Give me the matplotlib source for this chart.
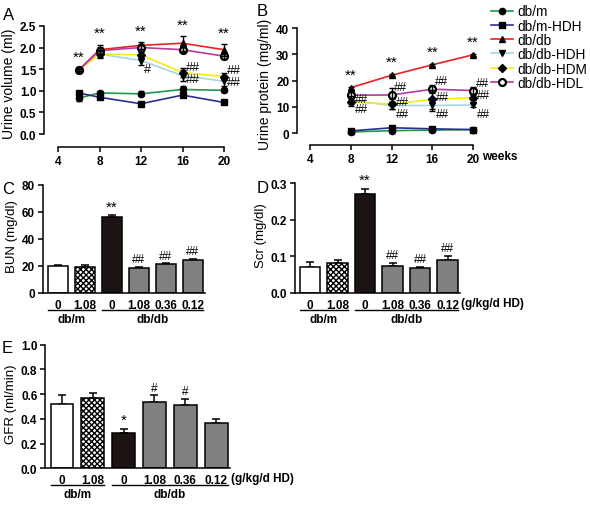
import numpy as np
import matplotlib
matplotlib.use("Agg")
import matplotlib.pyplot as plt
from matplotlib.transforms import ScaledTranslation

plt.rcParams['font.family'] = ['Liberation Sans', 'DejaVu Sans']

# ---- data ----
groups = ['db/m', 'db/m-HDH', 'db/db', 'db/db-HDH', 'db/db-HDM', 'db/db-HDL']
line_colors = ['#1e9a4e', '#2a2f8c', '#e8221e', '#a6d6e6', '#f2ec10', '#b83a9c']
markers = ['o', 's', '^', 'v', 'D', 'o']

# A: urine volume (ml)
weeks_a = [6, 8, 12, 16, 20]
vol = [
    [0.83, 0.95, 0.93, 1.03, 1.01],
    [0.95, 0.85, 0.70, 0.90, 0.73],
    [1.48, 1.95, 2.05, 2.10, 1.95],
    [1.48, 1.85, 1.70, 1.35, 1.22],
    [1.48, 1.85, 1.83, 1.42, 1.33],
    [1.48, 1.93, 2.00, 1.95, 1.80],
]
vol_err = [
    [0.07, 0.05, 0.06, 0.08, 0.03],
    [0.05, 0.04, 0.03, 0.05, 0.02],
    [0.04, 0.12, 0.08, 0.17, 0.14],
    [0.03, 0.10, 0.10, 0.12, 0.10],
    [0.03, 0.08, 0.07, 0.10, 0.08],
    [0.03, 0.08, 0.08, 0.06, 0.06],
]

# B: urine protein (mg/ml)
weeks_b = [8, 12, 16, 20]
prot = [
    [0.4, 0.9, 1.1, 1.3],
    [0.8, 2.0, 1.6, 1.3],
    [17.3, 22.0, 26.0, 29.8],
    [12.5, 10.5, 10.5, 10.7],
    [11.8, 11.0, 12.8, 13.5],
    [14.4, 14.5, 16.7, 16.2],
]
prot_err = [
    [0.3, 0.4, 0.3, 0.3],
    [0.4, 0.5, 0.4, 0.3],
    [0.4, 0.4, 0.4, 0.4],
    [1.5, 1.5, 2.0, 0.8],
    [1.5, 1.8, 3.5, 1.0],
    [2.0, 2.5, 1.5, 1.5],
]

# C, D, E: bars
doses = ['0', '1.08', '0', '1.08', '0.36', '0.12']
bun = [20.0, 19.5, 56.0, 18.5, 21.5, 24.5]
bun_err = [0.6, 1.5, 1.5, 1.0, 0.5, 0.6]
bun_sig = ['', '', '**', '##', '##', '##']
scr = [0.072, 0.082, 0.270, 0.074, 0.067, 0.090]
scr_err = [0.013, 0.008, 0.015, 0.009, 0.004, 0.012]
scr_sig = ['', '', '**', '##', '##', '##']
gfr = [0.52, 0.565, 0.285, 0.54, 0.51, 0.365]
gfr_err = [0.075, 0.045, 0.035, 0.05, 0.05, 0.035]
gfr_sig = ['', '', '*', '#', '#', '']

bar_faces = ['white', 'white', '#1c1412', '#808080', '#808080', '#808080']
bar_hatch = [None, 'xxxxxx', None, None, None, None]

W, H = 590, 506
fig = plt.figure(figsize=(W / 100, H / 100), dpi=100)


def px_axes(l, t, r, b):
    return fig.add_axes([l / W, 1 - b / H, (r - l) / W, (b - t) / H])


def style(ax):
    for s in ['top', 'right']:
        ax.spines[s].set_visible(False)
    for s in ['left', 'bottom']:
        ax.spines[s].set_linewidth(1.1)
    ax.tick_params(direction='out', length=3.5, width=1.1, labelsize=8.5, pad=2)
    for lab in ax.get_xticklabels() + ax.get_yticklabels():
        lab.set_fontweight('bold')


def line_panel(ax, weeks, vals, errs):
    handles = []
    for i in range(len(groups)):
        h, = ax.plot(weeks, vals[i], color=line_colors[i], lw=1.2, zorder=2,
                     marker=markers[i], ms=4.5 if i != 5 else 5,
                     mfc='black' if i != 5 else 'white',
                     mec='black', mew=1.0 if i != 5 else 1.6, clip_on=False)
        ax.errorbar(weeks, vals[i], yerr=errs[i], fmt='none', ecolor='black',
                    elinewidth=1.0, capsize=2.5, capthick=1.0, zorder=3, clip_on=False)
        handles.append(h)
    return handles


# ---- A ----
axA = px_axes(44, 20, 232, 148)
hA = line_panel(axA, weeks_a, vol, vol_err)
axA.set_xlim(2.65, 20.77)
axA.set_ylim(-0.30, 2.66)
axA.spines['left'].set_bounds(0, 2.5)
axA.spines['bottom'].set_bounds(4, 20)
axA.set_xticks([4, 8, 12, 16, 20])
axA.set_yticks(np.arange(0, 2.6, 0.5))
axA.set_yticklabels(['%.1f' % v for v in np.arange(0, 2.6, 0.5)])
axA.set_ylabel('Urine volume (ml)', fontsize=10, labelpad=3)
style(axA)
for w, v, e in zip(weeks_a, vol[2], vol_err[2]):
    axA.text(w, v + e + 0.1, '**', ha='center', va='bottom', fontsize=11)
axA.text(12.3, vol[3][2] - 0.05, '#', ha='left', va='top', fontsize=9)
for j in [3, 4]:
    axA.text(16.35, vol[j][3] + (0.14 if j == 4 else -0.07), '##', ha='left', va='center', fontsize=9)
    axA.text(20.25, vol[j][4] + (0.14 if j == 4 else -0.02), '##', ha='left', va='center', fontsize=9)

# ---- B ----
axB = px_axes(297, 22, 480, 146)
line_panel(axB, weeks_b, prot, prot_err)
axB.set_xlim(2.72, 20.69)
axB.set_ylim(-4.57, 42.7)
axB.spines['left'].set_bounds(0, 40)
axB.spines['bottom'].set_bounds(4, 20)
axB.set_xticks([4, 8, 12, 16, 20])
axB.set_yticks([0, 10, 20, 30, 40])
axB.set_ylabel('Urine protein (mg/ml)', fontsize=10, labelpad=3)
style(axB)
axB.text(20.9, -4.57, 'weeks', ha='left', va='top', fontsize=8.5, fontweight='bold',
         transform=axB.transData + ScaledTranslation(0, -5.5 / 100, fig.dpi_scale_trans))
for w, v in zip(weeks_b, prot[2]):
    axB.text(w, v + 2.3, '**', ha='center', va='bottom', fontsize=11)
for k, w in enumerate(weeks_b):
    if k > 0:
        axB.text(w + 0.25, prot[5][k] + 3.0, '##', ha='left', va='center', fontsize=8.5)
    axB.text(w + 0.4, prot[4][k] + 1.0, '##', ha='left', va='center', fontsize=8.5)
    axB.text(w + 0.4, prot[3][k] - 3.3, '##', ha='left', va='center', fontsize=8.5)

fig.legend(hA, groups, loc='upper left', bbox_to_anchor=(486 / W, 1 - 0 / H),
           frameon=False, fontsize=9.8, handlelength=1.6, handletextpad=0.3,
           labelspacing=0.02, borderaxespad=0)


# ---- bar panels ----
def bar_panel(ax, vals, errs, sig, ymax, ytop, yticks, fmt, ylabel, unit_label):
    x = np.arange(len(vals))
    for i in range(len(vals)):
        ax.bar(x[i], vals[i], width=0.74, color=bar_faces[i], edgecolor='black',
               linewidth=1.1, hatch=bar_hatch[i], zorder=2)
    ax.errorbar(x, vals, yerr=[np.zeros(len(vals)), errs], fmt='none', ecolor='black',
                elinewidth=1.1, capsize=3, capthick=1.1, zorder=1)
    ax.set_xlim(-0.55, 5.45)
    ax.set_ylim(0, ytop)
    ax.spines['left'].set_bounds(0, ymax)
    ax.set_yticks(yticks)
    ax.set_yticklabels([fmt % v for v in yticks])
    ax.set_xticks(x)
    ax.set_xticklabels(doses)
    ax.set_ylabel(ylabel, fontsize=9.5, labelpad=3)
    style(ax)
    ax.tick_params(axis='x', length=0, pad=4, labelsize=8.5)
    for i in range(len(vals)):
        if sig[i]:
            ax.text(x[i], vals[i] + errs[i] + ymax * 0.015, sig[i], ha='center',
                    va='bottom', fontsize=11 if '*' in sig[i] else 8.5)
    trans_line = ax.get_xaxis_transform() + ScaledTranslation(0, -17 / 100, fig.dpi_scale_trans)
    trans_lab = ax.get_xaxis_transform() + ScaledTranslation(0, -20 / 100, fig.dpi_scale_trans)
    for (a, b), name in [((-0.37, 1.37), 'db/m'), ((1.63, 5.37), 'db/db')]:
        ax.plot([a, b], [0, 0], color='black', lw=1.0, transform=trans_line, clip_on=False)
        ax.text((a + b) / 2, 0, name, ha='center', va='top', fontsize=8.5,
                fontweight='bold', transform=trans_lab)
    if unit_label:
        t = ax.get_xaxis_transform() + ScaledTranslation(0, -4 / 100, fig.dpi_scale_trans)
        ax.text(5.47, 0, '(g/kg/d HD)', ha='left', va='top', fontsize=8.5,
                fontweight='bold', transform=t)


axC = px_axes(42.7, 180, 205, 294)
bar_panel(axC, bun, bun_err, bun_sig, 80, 84.4, [0, 20, 40, 60, 80], '%d', 'BUN (mg/dl)', False)

axD = px_axes(295, 178, 460, 294)
bar_panel(axD, scr, scr_err, scr_sig, 0.3, 0.317, [0.0, 0.1, 0.2, 0.3], '%.1f', 'Scr (mg/dl)', True)

axE = px_axes(45, 340, 230, 469.3)
bar_panel(axE, gfr, gfr_err, gfr_sig, 1.0, 1.046, [0.0, 0.2, 0.4, 0.6, 0.8, 1.0], '%.1f',
          'GFR (ml/min)', True)

for lab, (px, py) in {'A': (3, 8), 'B': (257, 4), 'C': (2, 182), 'D': (257, 181), 'E': (2, 341)}.items():
    fig.text(px / W, 1 - py / H, lab, fontsize=12, ha='left', va='top')

fig.savefig('out.png', dpi=100)
